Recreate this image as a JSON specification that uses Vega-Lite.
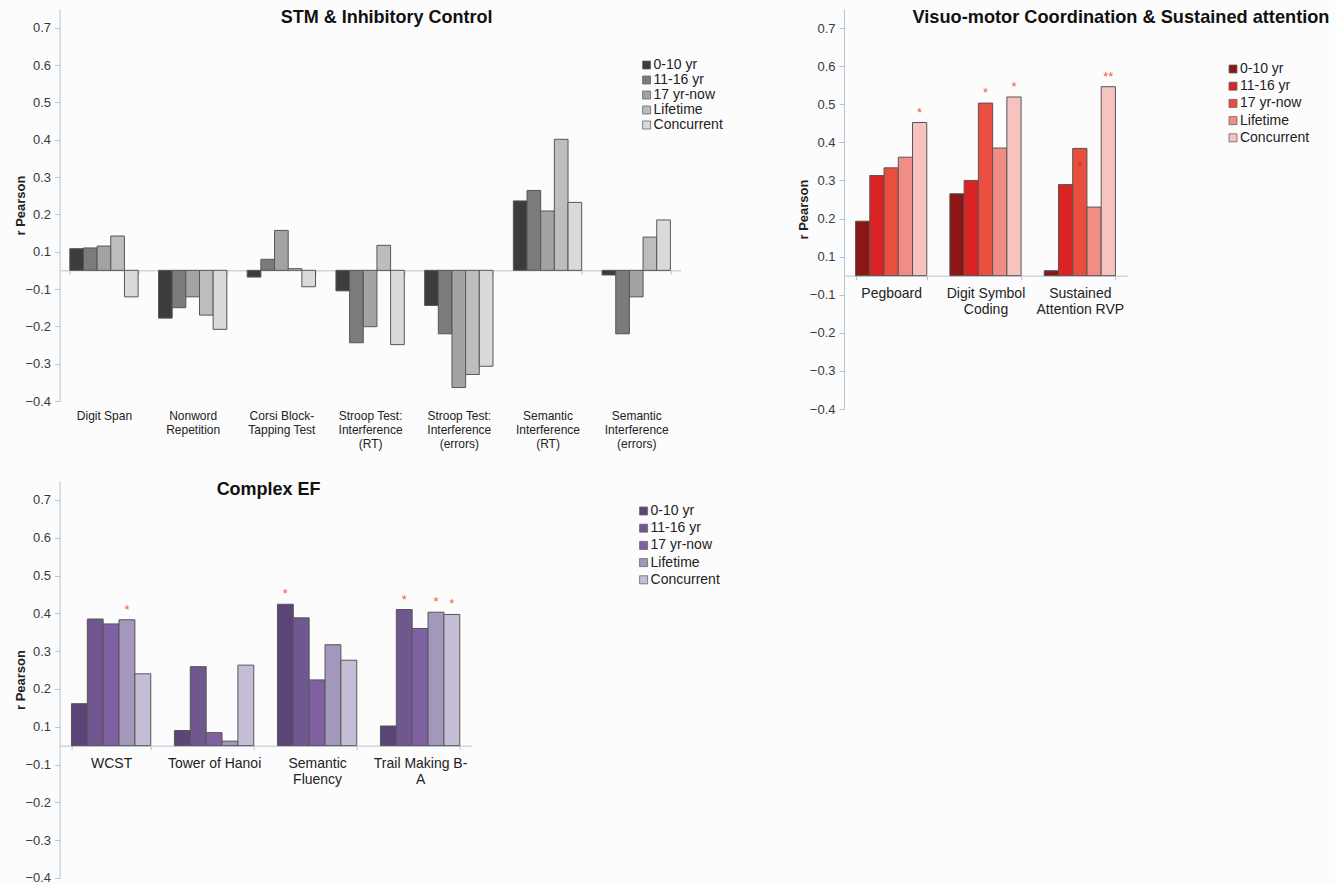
{
  "$schema": "https://vega.github.io/schema/vega-lite/v6.json",
  "background": "#fcfcfd",
  "padding": {"left": 14.6, "top": 8, "right": 5, "bottom": 0},
  "datasets": {
    "stm": [
      {"test": "Digit Span", "period": "0-10 yr", "r": 0.108, "sig": ""},
      {"test": "Digit Span", "period": "11-16 yr", "r": 0.110, "sig": ""},
      {"test": "Digit Span", "period": "17 yr-now", "r": 0.115, "sig": ""},
      {"test": "Digit Span", "period": "Lifetime", "r": 0.142, "sig": ""},
      {"test": "Digit Span", "period": "Concurrent", "r": -0.121, "sig": ""},
      {"test": "Nonword\nRepetition", "period": "0-10 yr", "r": -0.178, "sig": ""},
      {"test": "Nonword\nRepetition", "period": "11-16 yr", "r": -0.150, "sig": ""},
      {"test": "Nonword\nRepetition", "period": "17 yr-now", "r": -0.121, "sig": ""},
      {"test": "Nonword\nRepetition", "period": "Lifetime", "r": -0.170, "sig": ""},
      {"test": "Nonword\nRepetition", "period": "Concurrent", "r": -0.208, "sig": ""},
      {"test": "Corsi Block-\nTapping Test", "period": "0-10 yr", "r": -0.036, "sig": ""},
      {"test": "Corsi Block-\nTapping Test", "period": "11-16 yr", "r": 0.059, "sig": ""},
      {"test": "Corsi Block-\nTapping Test", "period": "17 yr-now", "r": 0.157, "sig": ""},
      {"test": "Corsi Block-\nTapping Test", "period": "Lifetime", "r": 0.009, "sig": ""},
      {"test": "Corsi Block-\nTapping Test", "period": "Concurrent", "r": -0.088, "sig": ""},
      {"test": "Stroop Test:\nInterference\n(RT)", "period": "0-10 yr", "r": -0.105, "sig": ""},
      {"test": "Stroop Test:\nInterference\n(RT)", "period": "11-16 yr", "r": -0.244, "sig": ""},
      {"test": "Stroop Test:\nInterference\n(RT)", "period": "17 yr-now", "r": -0.201, "sig": ""},
      {"test": "Stroop Test:\nInterference\n(RT)", "period": "Lifetime", "r": 0.117, "sig": ""},
      {"test": "Stroop Test:\nInterference\n(RT)", "period": "Concurrent", "r": -0.249, "sig": ""},
      {"test": "Stroop Test:\nInterference\n(errors)", "period": "0-10 yr", "r": -0.144, "sig": ""},
      {"test": "Stroop Test:\nInterference\n(errors)", "period": "11-16 yr", "r": -0.220, "sig": ""},
      {"test": "Stroop Test:\nInterference\n(errors)", "period": "17 yr-now", "r": -0.364, "sig": ""},
      {"test": "Stroop Test:\nInterference\n(errors)", "period": "Lifetime", "r": -0.329, "sig": ""},
      {"test": "Stroop Test:\nInterference\n(errors)", "period": "Concurrent", "r": -0.307, "sig": ""},
      {"test": "Semantic\nInterference\n(RT)", "period": "0-10 yr", "r": 0.236, "sig": ""},
      {"test": "Semantic\nInterference\n(RT)", "period": "11-16 yr", "r": 0.264, "sig": ""},
      {"test": "Semantic\nInterference\n(RT)", "period": "17 yr-now", "r": 0.209, "sig": ""},
      {"test": "Semantic\nInterference\n(RT)", "period": "Lifetime", "r": 0.401, "sig": ""},
      {"test": "Semantic\nInterference\n(RT)", "period": "Concurrent", "r": 0.232, "sig": ""},
      {"test": "Semantic\nInterference\n(errors)", "period": "0-10 yr", "r": -0.025, "sig": ""},
      {"test": "Semantic\nInterference\n(errors)", "period": "11-16 yr", "r": -0.220, "sig": ""},
      {"test": "Semantic\nInterference\n(errors)", "period": "17 yr-now", "r": -0.121, "sig": ""},
      {"test": "Semantic\nInterference\n(errors)", "period": "Lifetime", "r": 0.139, "sig": ""},
      {"test": "Semantic\nInterference\n(errors)", "period": "Concurrent", "r": 0.185, "sig": ""}
    ],
    "vis": [
      {"test": "Pegboard", "period": "0-10 yr", "r": 0.193, "sig": ""},
      {"test": "Pegboard", "period": "11-16 yr", "r": 0.313, "sig": ""},
      {"test": "Pegboard", "period": "17 yr-now", "r": 0.333, "sig": ""},
      {"test": "Pegboard", "period": "Lifetime", "r": 0.361, "sig": ""},
      {"test": "Pegboard", "period": "Concurrent", "r": 0.452, "sig": "*"},
      {"test": "Digit Symbol\nCoding", "period": "0-10 yr", "r": 0.265, "sig": ""},
      {"test": "Digit Symbol\nCoding", "period": "11-16 yr", "r": 0.300, "sig": ""},
      {"test": "Digit Symbol\nCoding", "period": "17 yr-now", "r": 0.503, "sig": "*"},
      {"test": "Digit Symbol\nCoding", "period": "Lifetime", "r": 0.385, "sig": ""},
      {"test": "Digit Symbol\nCoding", "period": "Concurrent", "r": 0.519, "sig": "*"},
      {"test": "Sustained\nAttention RVP", "period": "0-10 yr", "r": 0.026, "sig": ""},
      {"test": "Sustained\nAttention RVP", "period": "11-16 yr", "r": 0.289, "sig": ""},
      {"test": "Sustained\nAttention RVP", "period": "17 yr-now", "r": 0.384, "sig": "*"},
      {"test": "Sustained\nAttention RVP", "period": "Lifetime", "r": 0.230, "sig": ""},
      {"test": "Sustained\nAttention RVP", "period": "Concurrent", "r": 0.546, "sig": "**"}
    ],
    "ef": [
      {"test": "WCST", "period": "0-10 yr", "r": 0.161, "sig": ""},
      {"test": "WCST", "period": "11-16 yr", "r": 0.385, "sig": ""},
      {"test": "WCST", "period": "17 yr-now", "r": 0.372, "sig": ""},
      {"test": "WCST", "period": "Lifetime", "r": 0.383, "sig": "*"},
      {"test": "WCST", "period": "Concurrent", "r": 0.240, "sig": ""},
      {"test": "Tower of Hanoi", "period": "0-10 yr", "r": 0.080, "sig": ""},
      {"test": "Tower of Hanoi", "period": "11-16 yr", "r": 0.259, "sig": ""},
      {"test": "Tower of Hanoi", "period": "17 yr-now", "r": 0.069, "sig": ""},
      {"test": "Tower of Hanoi", "period": "Lifetime", "r": 0.024, "sig": ""},
      {"test": "Tower of Hanoi", "period": "Concurrent", "r": 0.263, "sig": ""},
      {"test": "Semantic\nFluency", "period": "0-10 yr", "r": 0.424, "sig": "*"},
      {"test": "Semantic\nFluency", "period": "11-16 yr", "r": 0.388, "sig": ""},
      {"test": "Semantic\nFluency", "period": "17 yr-now", "r": 0.224, "sig": ""},
      {"test": "Semantic\nFluency", "period": "Lifetime", "r": 0.317, "sig": ""},
      {"test": "Semantic\nFluency", "period": "Concurrent", "r": 0.276, "sig": ""},
      {"test": "Trail Making B-\nA", "period": "0-10 yr", "r": 0.102, "sig": ""},
      {"test": "Trail Making B-\nA", "period": "11-16 yr", "r": 0.410, "sig": "*"},
      {"test": "Trail Making B-\nA", "period": "17 yr-now", "r": 0.360, "sig": ""},
      {"test": "Trail Making B-\nA", "period": "Lifetime", "r": 0.403, "sig": "*"},
      {"test": "Trail Making B-\nA", "period": "Concurrent", "r": 0.397, "sig": "*"}
    ]
  },
  "spacing": 31,
  "resolve": {"scale": {"color": "independent", "x": "independent", "y": "independent", "xOffset": "independent"}, "legend": {"color": "independent"}},
  "vconcat": [
    {
      "spacing": 73.4,
      "resolve": {"scale": {"color": "independent", "x": "independent", "y": "independent", "xOffset": "independent"}, "legend": {"color": "independent"}},
      "hconcat": [
        {
          "width": 621,
          "height": 392,
          "data": {"name": "stm"},
          "title": {"text": "STM & Inhibitory Control", "dx": 16.5, "dy": 22},
          "encoding": {
            "x": {"field": "test", "type": "nominal", "sort": null,
              "scale": {"paddingInner": 0.23, "paddingOuter": 0.115},
              "axis": {"title": null, "offset": -130.67, "tickSize": 4, "labelFontSize": 12, "labelPadding": 136.5, "labelLineHeight": 14}},
            "xOffset": {"field": "period", "type": "nominal", "sort": ["0-10 yr", "11-16 yr", "17 yr-now", "Lifetime", "Concurrent"], "scale": {"paddingInner": 0, "paddingOuter": 0}},
            "y": {"field": "r", "type": "quantitative", "stack": null,
              "scale": {"domain": [-0.4, -0.1, 0.1, 0.75], "range": [392, 280, 242.67, 0], "nice": false},
              "axis": {"title": "r Pearson", "values": [-0.4, -0.3, -0.2, -0.1, 0.1, 0.2, 0.3, 0.4, 0.5, 0.6, 0.7], "format": ".1f", "tickSize": 5, "labelPadding": 4, "titlePadding": -3}}
          },
          "layer": [
            {
              "mark": {"type": "bar", "stroke": "#555555", "strokeWidth": 1},
              "encoding": {
                "y2": {"datum": 0},
                "color": {"field": "period", "type": "nominal",
                  "scale": {"domain": ["0-10 yr", "11-16 yr", "17 yr-now", "Lifetime", "Concurrent"], "range": ["#3c3c3c", "#7b7b7b", "#a3a3a3", "#bdbdbd", "#dadada"]},
                  "legend": {"orient": "none", "legendX": 580, "legendY": 49, "rowPadding": 1}}
              }
            }
          ]
        },
        {
          "width": 283,
          "height": 400,
          "data": {"name": "vis"},
          "title": {"text": "Visuo-motor Coordination & Sustained attention", "fontSize": 18.2, "dx": 135.5, "dy": 22.5},
          "encoding": {
            "x": {"field": "test", "type": "nominal", "sort": null,
              "scale": {"paddingInner": 0.245, "paddingOuter": 0.1225},
              "axis": {"title": null, "offset": -133.33, "tickSize": 4, "labelFontSize": 14, "labelPadding": 7, "labelLineHeight": 16}},
            "xOffset": {"field": "period", "type": "nominal", "sort": ["0-10 yr", "11-16 yr", "17 yr-now", "Lifetime", "Concurrent"], "scale": {"paddingInner": 0, "paddingOuter": 0}},
            "y": {"field": "r", "type": "quantitative", "stack": null,
              "scale": {"domain": [-0.4, -0.1, 0.1, 0.75], "range": [400, 285.71, 247.62, 0], "nice": false},
              "axis": {"title": "r Pearson", "values": [-0.4, -0.3, -0.2, -0.1, 0.1, 0.2, 0.3, 0.4, 0.5, 0.6, 0.7], "format": ".1f", "tickSize": 5, "labelPadding": 4, "titlePadding": -1}}
          },
          "layer": [
            {
              "mark": {"type": "bar", "stroke": "#555555", "strokeWidth": 1},
              "encoding": {
                "y2": {"datum": 0},
                "color": {"field": "period", "type": "nominal",
                  "scale": {"domain": ["0-10 yr", "11-16 yr", "17 yr-now", "Lifetime", "Concurrent"], "range": ["#8c1616", "#dc2324", "#e94e3e", "#f18d84", "#f7c3c0"]},
                  "legend": {"orient": "none", "legendX": 382, "legendY": 53, "rowPadding": 3.2}}
              }
            },
            {
              "transform": [{"filter": "datum.sig != '' && !(indexof(datum.test, 'Sustained') >= 0 && datum.period == '17 yr-now')"}],
              "mark": {"type": "text", "fontSize": 13, "color": "#f05a3a", "baseline": "alphabetic", "dy": -6},
              "encoding": {"text": {"field": "sig"}}
            },
            {
              "transform": [{"filter": "datum.sig != '' && indexof(datum.test, 'Sustained') >= 0 && datum.period == '17 yr-now'"}],
              "mark": {"type": "text", "fontSize": 13, "color": "#c8322a", "baseline": "alphabetic", "dy": 23},
              "encoding": {"text": {"field": "sig"}}
            }
          ]
        }
      ]
    },
    {
      "width": 412,
      "height": 397,
      "data": {"name": "ef"},
      "title": {"text": "Complex EF", "dx": 3, "dy": 22},
      "encoding": {
        "x": {"field": "test", "type": "nominal", "sort": null,
          "scale": {"paddingInner": 0.23, "paddingOuter": 0.115},
          "axis": {"title": null, "offset": -132.33, "tickSize": 4, "labelFontSize": 14, "labelPadding": 6.5, "labelLineHeight": 16.5}},
        "xOffset": {"field": "period", "type": "nominal", "sort": ["0-10 yr", "11-16 yr", "17 yr-now", "Lifetime", "Concurrent"], "scale": {"paddingInner": 0, "paddingOuter": 0}},
        "y": {"field": "r", "type": "quantitative", "stack": null,
          "scale": {"domain": [-0.4, -0.1, 0.1, 0.75], "range": [397, 283.57, 245.76, 0], "nice": false},
          "axis": {"title": "r Pearson", "values": [-0.4, -0.3, -0.2, -0.1, 0.1, 0.2, 0.3, 0.4, 0.5, 0.6, 0.7], "format": ".1f", "tickSize": 5, "labelPadding": 4, "titlePadding": -3}}
      },
      "layer": [
        {
          "mark": {"type": "bar", "stroke": "#555555", "strokeWidth": 1},
          "encoding": {
            "y2": {"datum": 0},
            "color": {"field": "period", "type": "nominal",
              "scale": {"domain": ["0-10 yr", "11-16 yr", "17 yr-now", "Lifetime", "Concurrent"], "range": ["#5b4478", "#71578f", "#7f61a3", "#a497bc", "#c5bdd6"]},
              "legend": {"orient": "none", "legendX": 577, "legendY": 23, "rowPadding": 3.2}}
          }
        },
        {
          "transform": [{"filter": "datum.sig != ''"}],
          "mark": {"type": "text", "fontSize": 13, "color": "#f05a3a", "baseline": "alphabetic", "dy": -6},
          "encoding": {"text": {"field": "sig"}}
        }
      ]
    }
  ],
  "config": {
    "font": "Liberation Sans",
    "view": {"stroke": null},
    "title": {"font": "Liberation Sans", "fontSize": 18, "fontWeight": "bold", "color": "#111111", "anchor": "middle", "frame": "group", "baseline": "alphabetic", "offset": 0},
    "axis": {"grid": false, "domainColor": "#b4c4d2", "tickColor": "#b4c4d2", "labelFont": "Liberation Sans", "titleFont": "Liberation Sans"},
    "axisX": {"labelAngle": 0, "labelColor": "#222222", "tickBand": "extent", "labelExpr": "split(datum.label, '\\n')", "labelOverlap": false, "labelLimit": 300},
    "axisY": {"labelFontSize": 13, "labelColor": "#3a3a3a", "titleFontSize": 13, "titleFontWeight": "bold", "titleColor": "#222222"},
    "legend": {"title": null, "symbolType": "square", "symbolSize": 64, "symbolStrokeColor": "#666666", "symbolStrokeWidth": 0.8, "labelFontSize": 14, "labelFont": "Liberation Sans", "labelColor": "#222222", "labelOffset": 0, "padding": 0}
  }
}
